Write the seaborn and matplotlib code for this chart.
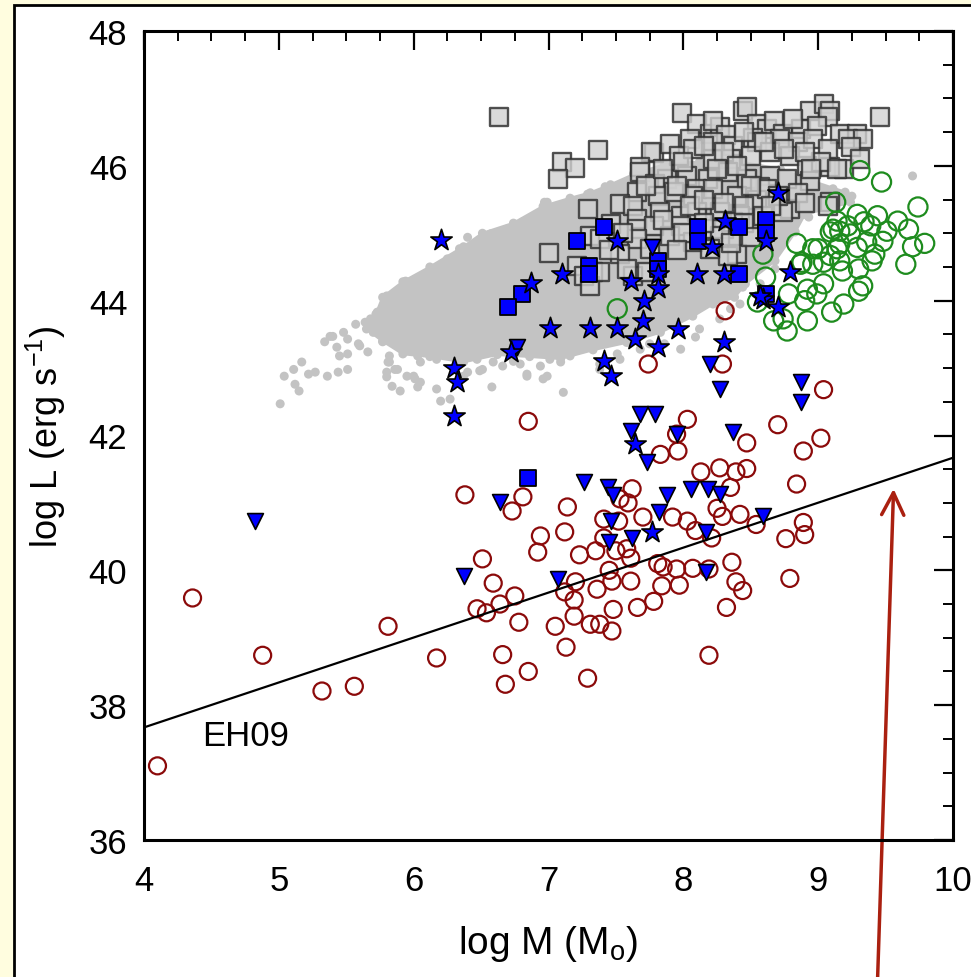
import matplotlib
matplotlib.use("Agg")
import matplotlib.pyplot as plt
from matplotlib.patches import Rectangle
from matplotlib.ticker import MultipleLocator
import numpy as np
import pandas as pd
import seaborn as sns

# ---------------- data ----------------
# dense cloud of small grey points: outline of the dense core + fringe dots
cloud_x = [5.72, 5.77, 5.92, 6.12, 6.37, 6.51, 6.74, 6.96, 7.16, 7.31, 7.46, 7.64, 7.86,
           8.12, 8.42, 8.72, 8.96, 9.20, 9.24, 8.90, 8.83, 8.68, 8.46, 8.38, 8.22, 8.07,
           7.83, 7.58, 7.33, 7.09, 6.86, 6.62, 6.37, 6.12, 5.92, 5.77, 5.65]
cloud_y = [43.80, 44.05, 44.28, 44.50, 44.80, 45.00, 45.15, 45.40, 45.52, 45.60, 45.72, 45.88, 46.02,
           46.06, 46.06, 45.95, 45.77, 45.61, 45.46, 45.28, 45.02, 44.59, 44.25, 44.05, 43.95, 43.77,
           43.53, 43.38, 43.27, 43.14, 43.17, 43.20, 43.09, 43.17, 43.21, 43.40, 43.58]
fringe_x = [5.01, 5.04, 5.11, 5.17, 5.12, 5.15, 5.22, 5.27, 5.36, 5.44, 5.51, 5.34, 5.40, 5.48,
            5.43, 5.45, 5.51, 5.59, 5.66, 5.64, 5.81, 5.86, 5.80, 5.84, 5.90, 5.95, 6.01, 6.03,
            5.94, 6.01, 6.20, 6.40, 6.49, 6.58, 6.99, 7.11, 6.84, 6.94, 7.16, 7.98, 8.09, 6.99,
            7.29, 7.42, 7.63, 9.70, 9.25, 9.11, 8.93, 8.53, 8.44, 8.35, 8.12, 7.75, 7.53, 7.38,
            6.79, 6.27, 5.51, 5.38, 5.60, 5.70, 5.77, 5.82, 5.88, 6.00, 6.05, 5.57,
            6.40, 6.34, 6.25, 6.14, 6.03, 5.80, 5.73, 5.68, 6.57, 6.69, 6.81, 6.97,
            5.88, 6.03, 6.17, 6.32, 6.47, 6.59, 6.74, 7.01, 5.82, 5.80, 5.88, 6.00,
            6.05, 6.17, 6.37, 6.51, 6.66, 6.84, 6.96, 7.38, 7.51, 7.68, 7.86, 8.27,
            8.42, 8.57, 8.68, 7.09, 6.94]
fringe_y = [42.47, 42.88, 42.98, 43.09, 42.76, 42.66, 42.91, 42.94, 42.88, 42.94, 42.98, 43.39, 43.47, 43.53,
            43.31, 43.18, 43.21, 43.36, 43.24, 43.68, 43.09, 42.98, 42.87, 42.73, 42.66, 42.88, 42.84, 42.72,
            44.29, 44.28, 42.51, 42.94, 42.96, 42.72, 42.88, 42.64, 42.91, 43.03, 43.18, 43.28, 43.46, 45.46,
            45.58, 45.69, 45.88, 45.85, 45.55, 45.66, 45.24, 44.50, 44.20, 43.88, 43.58, 43.36, 43.13, 42.98,
            43.06, 42.54, 43.43, 43.47, 43.33, 43.53, 43.39, 43.18, 43.68, 43.47, 43.09, 43.65,
            44.94, 44.77, 44.62, 44.47, 44.32, 44.07, 43.83, 43.73, 44.99, 45.06, 45.17, 45.46,
            43.39, 43.18, 43.13, 43.09, 43.13, 43.09, 43.10, 43.13, 43.09, 42.94, 42.98, 42.88,
            42.79, 42.69, 42.88, 42.98, 43.03, 42.88, 42.84, 43.06, 43.21, 43.28, 43.36, 43.73,
            43.95, 44.25, 44.47, 43.09, 43.24]

# grey squares
gsq_x = [6.63, 7.10, 7.20, 7.07, 7.37, 7.78, 7.99, 8.44, 8.47, 8.94, 9.04, 9.09, 9.07, 9.46, 7.29, 7.00,
         8.40, 8.30, 8.10, 8.20, 8.27, 8.55, 8.62, 8.67, 8.74, 8.87, 8.99, 8.22, 8.32, 8.52, 8.81, 9.16,
         9.29, 9.22, 9.33, 9.24, 9.19, 9.09, 8.05, 8.22, 8.37, 8.55, 8.72, 8.85, 8.96, 9.07, 7.90, 7.76,
         7.97, 8.07, 8.22, 8.35, 8.50, 8.64, 8.79, 8.92, 9.02, 9.31, 7.68, 7.68, 7.88, 8.03, 8.18, 8.33,
         8.47, 8.64, 8.77, 8.94, 9.14, 7.79, 8.10, 8.57, 7.66, 7.81, 7.93, 8.07, 8.22, 8.40, 8.55, 8.62,
         9.09, 8.79, 7.53, 7.63, 7.66, 7.83, 7.98, 8.10, 8.27, 8.42, 8.59, 8.74, 9.07, 7.66, 7.78, 7.98,
         8.22, 8.37, 7.46, 7.31, 7.38, 7.66, 7.90, 8.07, 8.27, 8.33, 7.53, 7.75, 8.20, 7.21, 7.33, 7.63,
         7.73, 7.26, 7.31, 7.38, 7.58,
         7.72, 7.85, 8.00, 8.15, 8.30, 8.45, 8.60, 8.75, 8.90, 8.05, 8.15, 8.30, 8.45, 8.50, 8.70, 8.85,
         8.95, 7.95, 8.25, 8.40, 7.85, 8.00, 8.15, 8.45, 8.65, 8.90, 7.55, 7.45, 7.95, 8.35, 8.50]
gsq_y = [46.73, 46.06, 45.97, 45.81, 46.24, 46.19, 46.78, 46.81, 46.88, 46.81, 46.91, 46.81, 46.72, 46.73, 45.36, 44.70,
         44.69, 45.06, 46.62, 46.47, 46.57, 46.62, 46.55, 46.67, 46.47, 46.55, 46.59, 46.67, 46.45, 46.42, 46.70, 46.47,
         46.47, 46.40, 46.40, 46.28, 45.96, 45.98, 46.40, 46.36, 46.30, 46.36, 46.40, 46.36, 46.40, 46.25, 46.33, 46.21,
         46.15, 46.25, 46.10, 46.10, 46.15, 46.21, 46.15, 46.00, 46.06, 46.10, 45.99, 45.91, 45.81, 45.85, 45.81, 45.91,
         45.81, 45.85, 45.81, 45.78, 45.96, 45.73, 45.66, 45.69, 45.61, 45.55, 45.61, 45.55, 45.66, 45.55, 45.50, 45.66,
         45.47, 45.36, 45.44, 45.40, 45.21, 45.31, 45.25, 45.31, 45.31, 45.25, 45.25, 45.31, 45.40, 45.06, 45.11, 45.11,
         45.06, 45.16, 45.13, 44.96, 44.91, 44.91, 44.96, 44.87, 44.96, 44.66, 44.69, 44.77, 44.77, 44.52, 44.43, 44.37,
         44.43, 44.37, 44.22, 44.43, 44.47,
         45.70, 45.95, 46.05, 46.30, 46.20, 46.50, 46.35, 46.25, 46.20, 45.40, 45.50, 45.45, 45.40, 45.70, 45.55, 45.60,
         45.95, 45.70, 45.95, 46.00, 45.20, 45.00, 45.15, 45.15, 45.40, 45.45, 45.00, 44.75, 44.75, 44.85, 44.95]

# green open circles
grn_x = [9.31, 9.47, 9.13, 9.74, 9.29, 9.44, 9.59, 9.67, 9.79, 9.70, 9.65, 9.14, 9.22, 9.16, 9.11, 9.24,
         9.34, 9.39, 9.51, 9.48, 9.36, 9.29, 9.16, 9.14, 9.09, 9.00, 9.04, 8.96, 8.88, 9.16, 9.18, 9.30,
         9.40, 9.42, 8.84, 8.61, 8.59, 8.78, 8.92, 8.99, 8.90, 9.04, 9.30, 9.33, 9.19, 9.10, 8.92, 8.74,
         8.77, 8.67, 8.55, 7.51, 9.09, 8.96, 8.87]
grn_y = [45.93, 45.76, 45.46, 45.39, 45.28, 45.26, 45.18, 45.06, 44.85, 44.80, 44.54, 45.18, 45.11, 45.03, 45.06, 44.99,
         45.17, 45.11, 45.03, 44.88, 44.87, 44.79, 44.84, 44.77, 44.67, 44.77, 44.57, 44.54, 44.57, 44.59, 44.44, 44.47,
         44.59, 44.69, 44.85, 44.35, 44.69, 44.10, 44.17, 44.10, 44.00, 44.25, 44.14, 44.22, 43.95, 43.83, 43.70, 43.73,
         43.55, 43.70, 43.98, 43.88, 45.02, 44.77, 44.54]

# dark-red open circles
red_x = [4.10, 4.36, 4.88, 5.32, 5.56, 5.81, 6.17, 6.38, 6.51, 6.59, 6.47, 6.54, 6.64, 6.66, 6.68, 6.85,
         6.73, 6.81, 7.14, 6.94, 6.92, 7.12, 6.75, 6.78, 6.85, 7.29, 7.13, 7.05, 7.19, 7.31, 7.38, 7.47,
         7.48, 7.66, 7.78, 7.12, 7.19, 7.20, 7.36, 7.47, 7.61, 7.45, 7.23, 7.35, 7.41, 7.50, 7.58, 7.61,
         7.41, 7.52, 7.70, 7.62, 7.53, 7.59, 7.83, 7.96, 7.95, 8.03, 7.92, 8.03, 7.81, 7.85, 7.95, 7.84,
         7.97, 7.74, 8.29, 8.31, 9.04, 8.70, 9.02, 8.89, 8.47, 8.13, 8.27, 8.39, 8.47, 8.35, 8.84, 8.25,
         8.29, 8.42, 8.54, 8.89, 8.90, 8.76, 8.09, 8.21, 8.36, 8.07, 8.19, 8.39, 8.44, 8.79, 8.32, 8.19]
red_y = [37.10, 39.59, 38.74, 38.21, 38.28, 39.17, 38.70, 41.12, 40.17, 39.81, 39.43, 39.37, 39.50, 38.75, 38.31, 42.21,
         40.88, 41.09, 40.94, 40.51, 40.27, 40.57, 39.62, 39.23, 38.50, 38.40, 38.86, 39.17, 39.32, 39.20, 39.20, 39.10,
         39.42, 39.45, 39.54, 39.68, 39.56, 39.83, 39.72, 39.84, 39.84, 40.00, 40.23, 40.29, 40.48, 40.29, 40.32, 40.18,
         40.76, 40.73, 40.79, 41.21, 41.06, 41.00, 41.72, 41.77, 42.02, 42.24, 40.79, 40.73, 40.10, 40.05, 40.02, 39.77,
         39.78, 43.06, 43.06, 43.85, 42.68, 42.16, 41.96, 41.77, 41.89, 41.46, 41.52, 41.46, 41.51, 41.23, 41.28, 40.92,
         40.80, 40.83, 40.68, 40.71, 40.53, 40.47, 40.59, 40.48, 40.12, 40.03, 40.02, 39.83, 39.70, 39.88, 39.45, 38.74]

# blue filled squares
bsq_x = [7.41, 7.21, 7.30, 7.30, 8.11, 8.11, 8.41, 8.61, 8.61, 7.81, 7.81, 8.41, 8.61, 6.80, 6.70, 6.85]
bsq_y = [45.09, 44.88, 44.52, 44.40, 45.09, 44.88, 45.09, 45.19, 45.01, 44.59, 44.47, 44.39, 44.10, 44.10, 43.91, 41.37]

# blue stars
star_x = [6.20, 6.87, 7.01, 6.72, 6.30, 6.32, 6.30, 7.51, 7.10, 7.61, 7.81, 7.81, 7.71, 7.70, 7.31, 7.51, 7.64,
          7.81, 7.96, 7.41, 7.46, 8.10, 8.30, 8.31, 8.21, 8.61, 8.70, 8.79, 8.59, 8.70, 8.57, 8.30, 7.64, 7.77]
star_y = [44.90, 44.26, 43.59, 43.24, 43.00, 42.79, 42.29, 44.88, 44.39, 44.29, 44.39, 44.19, 44.00, 43.70, 43.59, 43.59, 43.43,
          43.31, 43.58, 43.10, 42.88, 44.39, 44.39, 45.18, 44.80, 44.88, 45.60, 44.42, 44.03, 43.91, 44.07, 43.39, 41.87, 40.57]

# blue downward triangles (upper limits)
tri_x = [4.82, 6.37, 7.68, 7.79, 7.61, 7.95, 7.73, 7.26, 7.44, 7.48, 7.88, 7.82, 8.06, 6.64, 7.07, 7.46, 7.45, 7.62,
         8.20, 8.27, 8.87, 8.87, 8.37, 8.18, 8.27, 8.59, 8.17, 8.17, 7.77, 6.77]
tri_y = [40.73, 39.91, 42.32, 42.32, 42.07, 42.02, 41.60, 41.31, 41.23, 41.12, 41.12, 40.87, 41.20, 41.01, 39.87, 40.73, 40.42, 40.48,
         43.06, 42.69, 42.79, 42.50, 42.05, 41.21, 41.13, 40.81, 40.57, 39.98, 44.80, 43.31]

# EH09 relation (end points)
eh_x = [4.0, 10.0]
eh_y = [37.67, 41.67]

# ---------------- figure ----------------
sns.set_style("white")
plt.rcParams["font.family"] = ["Liberation Sans", "DejaVu Sans"]
plt.rcParams["mathtext.default"] = "regular"
for key in ["text.color", "axes.labelcolor", "xtick.color", "ytick.color"]:
    plt.rcParams[key] = "black"

W, H = 971, 978
fig = plt.figure(figsize=(W / 100, H / 100), dpi=100, facecolor="#FFFDDF")
fig.patches.append(Rectangle((14 / W, -0.05), 1.05, 1 - 6 / H + 0.05, transform=fig.transFigure,
                             facecolor="white", edgecolor="black", lw=2.0, zorder=-10))
ax = fig.add_axes([144 / W, 1 - 841 / H, (953 - 144) / W, (841 - 32) / H])
ax.set_zorder(1)
ax.set_facecolor("white")

cloud_c = "#c3c3c3"
ax.fill(cloud_x, cloud_y, color=cloud_c, lw=2, joinstyle="round", zorder=1)
sns.scatterplot(x=cloud_x + fringe_x, y=cloud_y + fringe_y, s=42, color=cloud_c,
                edgecolor="none", linewidth=0, ax=ax, zorder=1)

sns.scatterplot(x=gsq_x, y=gsq_y, marker="s", s=150, facecolor=(0.82, 0.82, 0.82, 0.8),
                edgecolor=(0.2, 0.2, 0.2, 0.85), linewidth=1.7, ax=ax, zorder=2)

sns.scatterplot(x=grn_x, y=grn_y, marker="o", s=190, facecolor="none",
                edgecolor="#1e8c1e", linewidth=1.6, ax=ax, zorder=3)
sns.scatterplot(x=red_x, y=red_y, marker="o", s=150, facecolor="none",
                edgecolor="#8b0a0a", linewidth=1.6, ax=ax, zorder=3)

sns.scatterplot(x=bsq_x, y=bsq_y, marker="s", s=120, color="#0000ff",
                edgecolor="black", linewidth=1.3, ax=ax, zorder=5)
sns.scatterplot(x=tri_x, y=tri_y, marker="v", s=130, color="#0000ff",
                edgecolor="black", linewidth=1.2, ax=ax, zorder=5)
sns.scatterplot(x=star_x, y=star_y, marker="*", s=260, color="#0000ff",
                edgecolor="black", linewidth=1.2, ax=ax, zorder=6)

sns.lineplot(x=eh_x, y=eh_y, color="black", lw=1.6, ax=ax, zorder=4)
ax.text(4.43, 37.55, "EH09", fontsize=25, va="center", ha="left", zorder=7)

ax.annotate("", xy=(9.56, 41.25), xytext=(9.44, 33.9), annotation_clip=False,
            arrowprops=dict(arrowstyle="->", color="#aa2010", lw=2.5, mutation_scale=40),
            zorder=8)

ax.set_xlim(4, 10)
ax.set_ylim(36, 48)
ax.xaxis.set_major_locator(MultipleLocator(1))
ax.xaxis.set_minor_locator(MultipleLocator(0.25))
ax.yaxis.set_major_locator(MultipleLocator(2))
ax.yaxis.set_minor_locator(MultipleLocator(0.5))
ax.tick_params(which="both", direction="in", top=True, right=True, color="black")
ax.tick_params(which="major", length=14, width=1.6, labelsize=25)
ax.tick_params(which="minor", length=7, width=1.4)
ax.tick_params(axis="x", which="major", pad=17)
ax.tick_params(axis="y", which="major", pad=12)
for sp in ax.spines.values():
    sp.set_color("black")
    sp.set_linewidth(2.2)
    sp.set_zorder(9)

ax.set_xlabel(r"log M (M$_{o}$)", fontsize=28, labelpad=19)
ax.set_ylabel(r"log L (erg s$^{-1}$)", fontsize=26)
ax.yaxis.set_label_coords(-0.094, 0.5)

fig.savefig("out.png", dpi=100, facecolor=fig.get_facecolor())
